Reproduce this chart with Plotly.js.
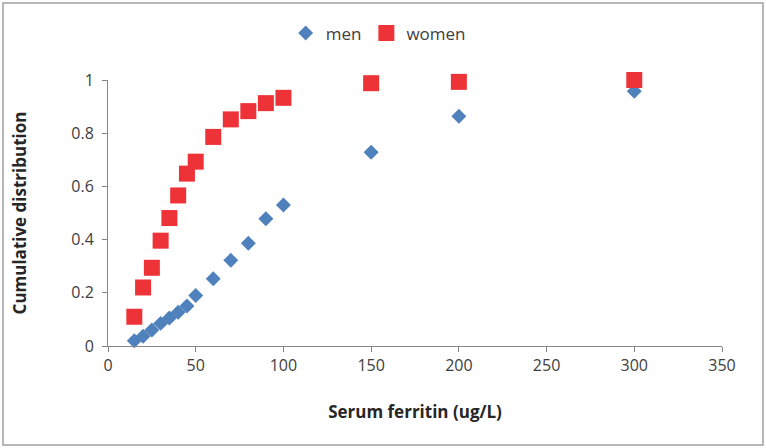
<!DOCTYPE html>
<html>
<head>
<meta charset="utf-8">
<script src="https://cdn.plot.ly/plotly-3.0.1.min.js"></script>
<style>html,body{margin:0;padding:0;background:#fff;}#chart{width:766px;height:448px;}</style>
</head>
<body>
<div id="chart"></div>
<script>
const ferritin = [15, 20, 25, 30, 35, 40, 45, 50, 60, 70, 80, 90, 100, 150, 200, 300];
const men = [0.02, 0.037, 0.06, 0.085, 0.105, 0.127, 0.15, 0.19, 0.253, 0.322, 0.386, 0.478, 0.53, 0.728, 0.864, 0.958];
const women = [0.11, 0.22, 0.294, 0.396, 0.481, 0.566, 0.648, 0.693, 0.786, 0.852, 0.883, 0.913, 0.933, 0.988, 0.993, 1.0];
const xTicks = [0, 50, 100, 150, 200, 250, 300, 350];
const yTicks = [0, 0.2, 0.4, 0.6, 0.8, 1];

const font = "Open Sans, Lato, sans-serif";
const traces = [
  {x: ferritin, y: men, name: "men", type: "scatter", mode: "markers", cliponaxis: false,
   marker: {symbol: "diamond", size: 11.5, color: "#4F81BD"}},
  {x: ferritin, y: women, name: "women", type: "scatter", mode: "markers", cliponaxis: false,
   marker: {symbol: "square", size: 16, color: "#EE3338"}}
];
const layout = {
  width: 766, height: 448,
  margin: {l: 108, r: 44, t: 80, b: 102},
  paper_bgcolor: "#fff", plot_bgcolor: "#fff",
  font: {family: font, size: 16, color: "#404040"},
  showlegend: true,
  legend: {orientation: "h", x: 0.44, xanchor: "center", y: 1.175, yanchor: "middle",
           font: {size: 17, color: "#404040"}, itemwidth: 30, tracegroupgap: 0},
  xaxis: {range: [0, 350], tickvals: xTicks, ticktext: xTicks.map(String),
          showgrid: false, zeroline: false, showline: true, linecolor: "#868686", linewidth: 1,
          ticks: "outside", ticklen: 5, tickcolor: "#868686",
          tickfont: {size: 16, color: "#404040"},
          title: {text: "<b>Serum ferritin (ug/L)</b>", font: {size: 17, color: "#262626"}, standoff: 30}},
  yaxis: {range: [0, 1], tickvals: yTicks, ticktext: ["0", "0.2", "0.4", "0.6", "0.8", "1"],
          showgrid: false, zeroline: false, showline: true, linecolor: "#868686", linewidth: 1,
          ticks: "outside", ticklen: 5, tickcolor: "#868686", ticklabelstandoff: 5,
          tickfont: {size: 16, color: "#404040"},
          title: {text: "<b>Cumulative distribution</b>", font: {size: 17, color: "#262626"}, standoff: 40}},
  shapes: [{type: "rect", xref: "paper", yref: "paper",
            x0: -105/614, x1: 1 + 41/614, y0: -99/266, y1: 1 + 77/266,
            line: {color: "#A0A0A0", width: 1.5}}]
};
Plotly.newPlot("chart", traces, layout, {displayModeBar: false, staticPlot: true});
</script>
</body>
</html>
